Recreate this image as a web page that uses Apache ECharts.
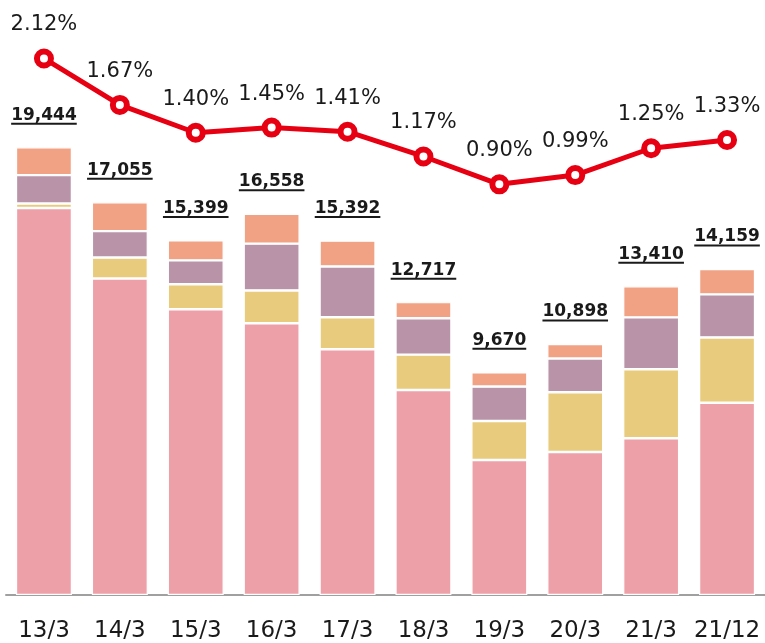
<!DOCTYPE html>
<html><head><meta charset="utf-8">
<script src="https://cdn.jsdelivr.net/npm/echarts@6/dist/echarts.min.js"></script>
<style>html,body{margin:0;padding:0;background:#fff}#chart{width:765px;height:643px}</style>
</head><body><div id="chart"></div>
<script>
const categories = ['13/3','14/3','15/3','16/3','17/3','18/3','19/3','20/3','21/3','21/12'];
const totals = [19444,17055,15399,16558,15392,12717,9670,10898,13410,14159];
const segOrange = [1212,1255,866,1298,1125,700,619,628,1355,1104];
const segPurple = [1233,1147,1039,2034,2207,1580,1493,1463,2251,1870];
const segYellow = [195,909,1082,1428,1385,1536,1697,2597,2999,2839];
const segPink = [16804,13744,12412,11798,10675,8901,5861,6210,6805,8346];
const ratios = [2.12,1.67,1.40,1.45,1.41,1.17,0.90,0.99,1.25,1.33];

const TOTAL_FONT = 'bold 17px "DejaVu Sans"';
const mctx = document.createElement('canvas').getContext('2d');
function measure(t){ mctx.font = TOTAL_FONT; return mctx.measureText(t).width; }
function fmt(v){ return Number(v).toLocaleString('en-US'); }

const chart = echarts.init(document.getElementById('chart'), null, {renderer:'canvas'});
const barStyle = c => ({color:c, borderColor:'#fff', borderWidth:1.2});
const RED = '#e60012';
chart.setOption({
  animation:false,
  backgroundColor:'#fff',
  grid:{left:6, right:0, top:0, bottom:46, containLabel:false},
  xAxis:{type:'category', data:categories,
    axisLine:{lineStyle:{color:'#a0a0a0', width:2}},
    axisTick:{show:false},
    axisLabel:{interval:0, color:'#1a1a1a', fontFamily:'DejaVu Sans', fontSize:23, margin:25}},
  yAxis:[
    {type:'value', min:0, max:25838, show:false, splitLine:{show:false}},
    {type:'value', min:-3.081, max:2.687, show:false, splitLine:{show:false}}
  ],
  series:[
    {type:'bar', stack:'s', data:segPink, barWidth:56, itemStyle:barStyle('#eea0a9')},
    {type:'bar', stack:'s', data:segYellow, barWidth:56, itemStyle:barStyle('#e8cb7d')},
    {type:'bar', stack:'s', data:segPurple, barWidth:56, itemStyle:barStyle('#b994a8')},
    {type:'bar', stack:'s', data:segOrange, barWidth:56, itemStyle:barStyle('#f2a284')},
    {type:'custom', yAxisIndex:0, data: totals.map((t,i)=>[i,t]),
      renderItem:function(params, api){
        const p = api.coord([api.value(0), api.value(1)]);
        const txt = fmt(api.value(1));
        const w = measure(txt);
        return {type:'group', children:[
          {type:'text', x:p[0], y:p[1]-32, style:{text:txt, fill:'#1a1a1a', font:TOTAL_FONT, align:'center', verticalAlign:'middle'}},
          {type:'rect', shape:{x:p[0]-w/2, y:p[1]-24.5, width:w, height:2}, style:{fill:'#1a1a1a'}}
        ]};
      }},
    {type:'line', yAxisIndex:1, data:ratios, z:10,
      lineStyle:{color:RED, width:5},
      symbol:'circle', symbolSize:14,
      itemStyle:{color:'#fff', borderColor:RED, borderWidth:6},
      label:{show:true, position:'top', distance:13, color:'#1a1a1a',
        fontFamily:'DejaVu Sans', fontSize:21,
        formatter:p=>p.value.toFixed(2)+'%'}}
  ]
});
</script></body></html>
